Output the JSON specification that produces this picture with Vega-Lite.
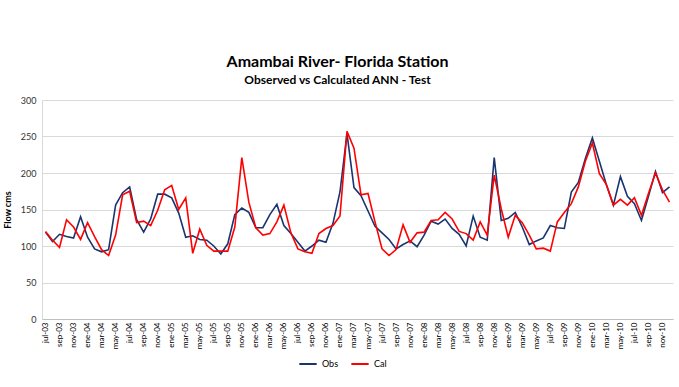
{
  "$schema": "https://vega.github.io/schema/vega-lite/v6.json",
  "width": 631,
  "height": 219,
  "autosize": {"type": "none"},
  "padding": {"left": 42, "top": 100, "right": 6, "bottom": 68},
  "background": "white",
  "title": {
    "text": "Amambai  River- Florida Station",
    "subtitle": "Observed vs Calculated ANN - Test",
    "font": "Lato",
    "fontSize": 16,
    "fontWeight": "bold",
    "color": "#000000",
    "subtitleFont": "Lato",
    "subtitleFontSize": 12,
    "subtitleFontWeight": "bold",
    "subtitleColor": "#000000",
    "subtitlePadding": 5,
    "anchor": "middle",
    "dx": -20,
    "offset": 10
  },
  "data": {
    "values": [
      {"m":"jul-03","Obs":119,"Cal":120},{"m":"ago-03","Obs":106,"Cal":108},{"m":"sep-03","Obs":116,"Cal":98},{"m":"oct-03","Obs":113,"Cal":136},{"m":"nov-03","Obs":111,"Cal":126},{"m":"dic-03","Obs":140,"Cal":109},
      {"m":"ene-04","Obs":112,"Cal":132},{"m":"feb-04","Obs":96,"Cal":113},{"m":"mar-04","Obs":92,"Cal":95},{"m":"abr-04","Obs":95,"Cal":87},{"m":"may-04","Obs":156,"Cal":115},{"m":"jun-04","Obs":173,"Cal":170},{"m":"jul-04","Obs":181,"Cal":175},{"m":"ago-04","Obs":136,"Cal":132},{"m":"sep-04","Obs":119,"Cal":134},{"m":"oct-04","Obs":137,"Cal":128},{"m":"nov-04","Obs":171,"Cal":149},{"m":"dic-04","Obs":171,"Cal":177},
      {"m":"ene-05","Obs":166,"Cal":183},{"m":"feb-05","Obs":145,"Cal":150},{"m":"mar-05","Obs":112,"Cal":166},{"m":"abr-05","Obs":114,"Cal":90},{"m":"may-05","Obs":109,"Cal":123},{"m":"jun-05","Obs":108,"Cal":101},{"m":"jul-05","Obs":100,"Cal":93},{"m":"ago-05","Obs":89,"Cal":93},{"m":"sep-05","Obs":103,"Cal":93},{"m":"oct-05","Obs":143,"Cal":126},{"m":"nov-05","Obs":152,"Cal":221},{"m":"dic-05","Obs":146,"Cal":160},
      {"m":"ene-06","Obs":125,"Cal":125},{"m":"feb-06","Obs":125,"Cal":115},{"m":"mar-06","Obs":143,"Cal":117},{"m":"abr-06","Obs":157,"Cal":133},{"m":"may-06","Obs":128,"Cal":156},{"m":"jun-06","Obs":117,"Cal":118},{"m":"jul-06","Obs":105,"Cal":96},{"m":"ago-06","Obs":93,"Cal":92},{"m":"sep-06","Obs":100,"Cal":90},{"m":"oct-06","Obs":108,"Cal":117},{"m":"nov-06","Obs":105,"Cal":124},{"m":"dic-06","Obs":131,"Cal":128},
      {"m":"ene-07","Obs":174,"Cal":141},{"m":"feb-07","Obs":254,"Cal":257},{"m":"mar-07","Obs":180,"Cal":234},{"m":"abr-07","Obs":169,"Cal":170},{"m":"may-07","Obs":148,"Cal":172},{"m":"jun-07","Obs":127,"Cal":133},{"m":"jul-07","Obs":118,"Cal":96},{"m":"ago-07","Obs":109,"Cal":87},{"m":"sep-07","Obs":96,"Cal":95},{"m":"oct-07","Obs":102,"Cal":129},{"m":"nov-07","Obs":107,"Cal":105},{"m":"dic-07","Obs":99,"Cal":118},
      {"m":"ene-08","Obs":115,"Cal":119},{"m":"feb-08","Obs":134,"Cal":135},{"m":"mar-08","Obs":130,"Cal":136},{"m":"abr-08","Obs":137,"Cal":146},{"m":"may-08","Obs":124,"Cal":137},{"m":"jun-08","Obs":116,"Cal":120},{"m":"jul-08","Obs":100,"Cal":117},{"m":"ago-08","Obs":141,"Cal":108},{"m":"sep-08","Obs":112,"Cal":133},{"m":"oct-08","Obs":108,"Cal":115},{"m":"nov-08","Obs":221,"Cal":197},{"m":"dic-08","Obs":135,"Cal":151},
      {"m":"ene-09","Obs":138,"Cal":112},{"m":"feb-09","Obs":146,"Cal":142},{"m":"mar-09","Obs":126,"Cal":132},{"m":"abr-09","Obs":102,"Cal":115},{"m":"may-09","Obs":107,"Cal":96},{"m":"jun-09","Obs":111,"Cal":97},{"m":"jul-09","Obs":128,"Cal":93},{"m":"ago-09","Obs":125,"Cal":133},{"m":"sep-09","Obs":124,"Cal":146},{"m":"oct-09","Obs":174,"Cal":158},{"m":"nov-09","Obs":187,"Cal":181},{"m":"dic-09","Obs":220,"Cal":216},
      {"m":"ene-10","Obs":248,"Cal":241},{"m":"feb-10","Obs":216,"Cal":199},{"m":"mar-10","Obs":184,"Cal":184},{"m":"abr-10","Obs":156,"Cal":156},{"m":"may-10","Obs":195,"Cal":164},{"m":"jun-10","Obs":168,"Cal":156},{"m":"jul-10","Obs":158,"Cal":166},{"m":"ago-10","Obs":135,"Cal":142},{"m":"sep-10","Obs":168,"Cal":172},{"m":"oct-10","Obs":202,"Cal":200},{"m":"nov-10","Obs":173,"Cal":177},{"m":"dic-10","Obs":181,"Cal":160}
    ]
  },
  "transform": [{"fold": ["Obs", "Cal"], "as": ["Serie", "Flow"]}],
  "mark": {"type": "line", "strokeWidth": 1.6},
  "encoding": {
    "x": {
      "field": "m",
      "type": "ordinal",
      "sort": null,
      "title": null,
      "axis": {
        "values": ["jul-03","sep-03","nov-03","ene-04","mar-04","may-04","jul-04","sep-04","nov-04","ene-05","mar-05","may-05","jul-05","sep-05","nov-05","ene-06","mar-06","may-06","jul-06","sep-06","nov-06","ene-07","mar-07","may-07","jul-07","sep-07","nov-07","ene-08","mar-08","may-08","jul-08","sep-08","nov-08","ene-09","mar-09","may-09","jul-09","sep-09","nov-09","ene-10","mar-10","may-10","jul-10","sep-10","nov-10"],
        "labelAngle": 270,
        "labelFont": "Lato",
        "labelFontSize": 8,
        "labelColor": "#000000",
        "labelPadding": 3,
        "ticks": false,
        "domainColor": "#BFBFBF",
        "grid": false
      }
    },
    "y": {
      "field": "Flow",
      "type": "quantitative",
      "scale": {"domain": [0, 300], "nice": false},
      "title": "Flow cms",
      "axis": {
        "values": [0, 50, 100, 150, 200, 250, 300],
        "titleFont": "Lato",
        "titleFontSize": 9,
        "titleFontWeight": "bold",
        "titleColor": "#000000",
        "titlePadding": 8,
        "labelFont": "Lato",
        "labelFontSize": 9,
        "labelColor": "#333333",
        "labelPadding": 6,
        "ticks": false,
        "domainColor": "#D9D9D9",
        "gridColor": "#D9D9D9",
        "gridWidth": 1
      }
    },
    "color": {
      "field": "Serie",
      "type": "nominal",
      "scale": {"domain": ["Obs", "Cal"], "range": ["#1A3470", "#FF0000"]},
      "legend": {
        "title": null,
        "orient": "none",
        "direction": "horizontal",
        "legendX": 256,
        "legendY": 254,
        "symbolType": "stroke",
        "symbolStrokeWidth": 2,
        "symbolSize": 300,
        "labelFont": "Lato",
        "labelFontSize": 9,
        "labelColor": "#000000",
        "columnPadding": 8
      }
    }
  },
  "config": {"view": {"stroke": null}}
}
